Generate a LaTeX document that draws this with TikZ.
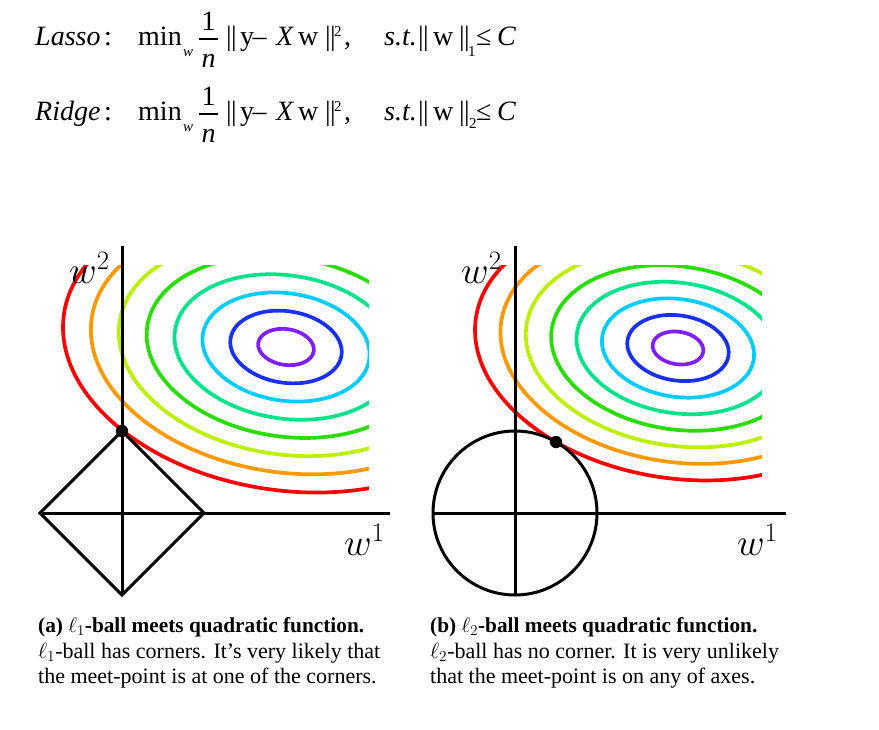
\RequirePackage{fix-cm}
\documentclass[tikz,border=0pt]{standalone}
\usepackage{fontspec}
\setmainfont{Liberation Serif}
\definecolor{cA}{HTML}{7F1FFF}
\definecolor{cB}{HTML}{1A30F0}
\definecolor{cC}{HTML}{00CCFF}
\definecolor{cD}{HTML}{00E38A}
\definecolor{cE}{HTML}{2ADD00}
\definecolor{cF}{HTML}{BBF000}
\definecolor{cG}{HTML}{FF9900}
\definecolor{cH}{HTML}{FF0000}
\begin{document}
\begin{tikzpicture}[x=1pt,y=-1pt,
  contour/.style={line width=3.7pt},
  axisline/.style={line width=3pt},
  ballline/.style={line width=3pt, line join=miter},
  eqt/.style={inner sep=0pt, anchor=base west, font=\fontsize{28}{28}\selectfont},
  eqc/.style={inner sep=0pt, anchor=base, font=\fontsize{28}{28}\selectfont},
  eqs/.style={inner sep=0pt, anchor=base west, font=\fontsize{15}{15}\selectfont},
  axlab/.style={inner sep=0pt, anchor=base west, font=\fontsize{38}{38}\selectfont},
  capt/.style={inner sep=0pt, anchor=base west, font=\fontsize{22}{22}\selectfont},
  captb/.style={inner sep=0pt, anchor=base west, font=\fontsize{21.3}{21.3}\selectfont\bfseries},
  meet/.style={fill=black}]
\fill[white] (0,0) rectangle (879,729);
\useasboundingbox (0,0) rectangle (879,729);

% ---------- formulas ----------
\foreach \yb/\nm/\sb/\sbx/\sby in {45/Lasso/1/468/56, 120/Ridge/2/469/128}{
  \node[eqt] (n\nm) at (35,\yb) {\textit{\nm}};
  \node[eqt] (c\nm) at (104,\yb) {:};
  \node[eqt] (m\nm) at (138,\yb) {min};
  \node[eqs] (w\nm) at (183,\yb+11) {\textit{w}};
  \node[eqc] (o\nm) at (208.5,\yb-15) {1};
  \coordinate (fa\nm) at (199,\yb-6);
  \coordinate (fb\nm) at (218,\yb-6);
  \draw[line width=1.1pt] (fa\nm) -- (fb\nm);
  \node[eqc] (d\nm) at (208.5,\yb+22) {\textit{n}};
  \node[eqt] (b\nm) at (226,\yb) {|\kern-0.6pt|};
  \node[eqt] (y\nm) at (240,\yb) {y\kern-1.5pt–};
  \node[eqt] (x\nm) at (276,\yb) {\textit{X}};
  \node[eqt] (v\nm) at (298,\yb) {w};
  \node[eqt] (e\nm) at (325,\yb) {|\kern-0.6pt|};
  \node[eqs] (p\nm) at (334,\yb-9) {2};
  \node[eqt] (k\nm) at (344,\yb) {,};
  \node[eqt] (s\nm) at (384,\yb) {\textit{s.t.}};
  \node[eqt] (g\nm) at (418,\yb) {|\kern-0.6pt|};
  \node[eqt] (u\nm) at (433,\yb) {w};
  \node[eqt] (h\nm) at (459,\yb) {|\kern-0.6pt|};
  \node[eqs] (i\nm) at (\sbx,\sby) {\sb};
  \node[eqt] (l\nm) at (476,\yb) {≤};
  \node[eqt] (C\nm) at (497,\yb) {\textit{C}};
}

% ---------- left plot (l1) ----------
\begin{scope}
  \clip (0,265) rectangle (369,729);
  \foreach \k/\col in {1/cA,2/cB,3/cC,4/cD,5/cE,6/cF,7/cG,8/cH}
    \draw[contour,\col,shift={(286,347)},rotate=-8.6]
      (0,0) ellipse [x radius={\k*28.06pt}, y radius={\k*17.9pt}];
\end{scope}
\coordinate (La) at (122,246);
\coordinate (Lb) at (122,595);
\coordinate (Lc) at (40,513);
\coordinate (Ld) at (390,513);
\coordinate (Dt) at (122,431);
\coordinate (Dr) at (204,513);
\coordinate (Db) at (122,595);
\coordinate (Dl) at (40,513);
\draw[axisline] (La) -- (Lb);
\draw[axisline] (Lc) -- (Ld);
\draw[ballline] (Dt) -- (Dr) -- (Db) -- (Dl) -- cycle;
\fill[meet] (Dt) circle[radius=6.2pt];
\node[axlab] (lw2) at (69,283) {$w^2$};
\node[axlab] (lw1) at (344,555) {$w^1$};

% ---------- right plot (l2) ----------
\begin{scope}
  \clip (420,265) rectangle (762,729);
  \foreach \k/\col in {1/cA,2/cB,3/cC,4/cD,5/cE,6/cF,7/cG,8/cH}
    \draw[contour,\col,shift={(678,348)},rotate=-8.6]
      (0,0) ellipse [x radius={\k*25.54pt}, y radius={\k*16.29pt}];
\end{scope}
\coordinate (Ra) at (515,246);
\coordinate (Rb) at (515,595);
\coordinate (Rc) at (433,513);
\coordinate (Rd) at (786,513);
\coordinate (Ro) at (515,513);
\coordinate (Rm) at (556,442);
\draw[axisline] (Ra) -- (Rb);
\draw[axisline] (Rc) -- (Rd);
\draw[ballline] (Ro) circle[radius=82pt];
\fill[meet] (Rm) circle[radius=6.2pt];
\node[axlab] (rw2) at (461,283) {$w^2$};
\node[axlab] (rw1) at (737,555) {$w^1$};

% ---------- captions ----------
\node[captb] (ca1) at (38,632) {(a) $\ell_1$-ball meets quadratic function.};
\node[capt] (ca2) at (38,658) {$\ell_1$-ball has corners. It’s very likely that};
\node[capt] (ca3) at (38,683) {the meet-point is at one of the corners.};
\node[captb] (cb1) at (430,632) {(b) $\ell_2$-ball meets quadratic function.};
\node[capt] (cb2) at (430,658) {$\ell_2$-ball has no corner. It is very unlikely};
\node[capt] (cb3) at (430,683) {that the meet-point is on any of axes.};
\end{tikzpicture}
\end{document}
